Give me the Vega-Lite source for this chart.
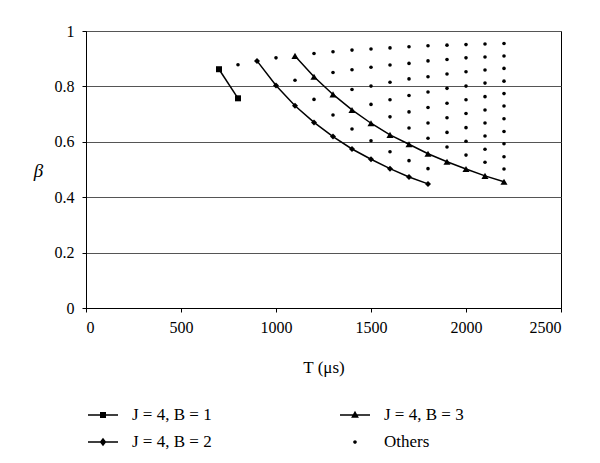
{
  "$schema": "https://vega.github.io/schema/vega-lite/v6.json",
  "width": 475,
  "height": 277,
  "autosize": {"type": "none"},
  "padding": {"left": 86, "top": 31, "right": 39, "bottom": 155},
  "background": "white",
  "config": {
    "view": {"stroke": "black", "strokeWidth": 1},
    "font": "Liberation Serif",
    "axis": {
      "labelFont": "Liberation Serif",
      "labelFontSize": 16,
      "labelColor": "black",
      "titleFont": "Liberation Serif",
      "titleColor": "black",
      "titleFontWeight": "normal",
      "domainColor": "black",
      "tickColor": "black",
      "tickSize": 4,
      "gridColor": "#555555",
      "gridWidth": 1,
      "gridOpacity": 1
    }
  },
  "data": {
    "values": [
      {"T": 700, "beta": 0.862, "s": "J = 4, B = 1"},
      {"T": 800, "beta": 0.757, "s": "J = 4, B = 1"},
      {"T": 900, "beta": 0.892, "s": "J = 4, B = 2"},
      {"T": 1000, "beta": 0.803, "s": "J = 4, B = 2"},
      {"T": 1100, "beta": 0.730, "s": "J = 4, B = 2"},
      {"T": 1200, "beta": 0.670, "s": "J = 4, B = 2"},
      {"T": 1300, "beta": 0.619, "s": "J = 4, B = 2"},
      {"T": 1400, "beta": 0.574, "s": "J = 4, B = 2"},
      {"T": 1500, "beta": 0.537, "s": "J = 4, B = 2"},
      {"T": 1600, "beta": 0.503, "s": "J = 4, B = 2"},
      {"T": 1700, "beta": 0.473, "s": "J = 4, B = 2"},
      {"T": 1800, "beta": 0.448, "s": "J = 4, B = 2"},
      {"T": 1100, "beta": 0.910, "s": "J = 4, B = 3"},
      {"T": 1200, "beta": 0.835, "s": "J = 4, B = 3"},
      {"T": 1300, "beta": 0.771, "s": "J = 4, B = 3"},
      {"T": 1400, "beta": 0.715, "s": "J = 4, B = 3"},
      {"T": 1500, "beta": 0.667, "s": "J = 4, B = 3"},
      {"T": 1600, "beta": 0.625, "s": "J = 4, B = 3"},
      {"T": 1700, "beta": 0.591, "s": "J = 4, B = 3"},
      {"T": 1800, "beta": 0.557, "s": "J = 4, B = 3"},
      {"T": 1900, "beta": 0.528, "s": "J = 4, B = 3"},
      {"T": 2000, "beta": 0.502, "s": "J = 4, B = 3"},
      {"T": 2100, "beta": 0.477, "s": "J = 4, B = 3"},
      {"T": 2200, "beta": 0.456, "s": "J = 4, B = 3"},
      {"T": 800, "beta": 0.878, "s": "Others"},
      {"T": 1000, "beta": 0.903, "s": "Others"},
      {"T": 1100, "beta": 0.822, "s": "Others"},
      {"T": 1200, "beta": 0.919, "s": "Others"},
      {"T": 1200, "beta": 0.753, "s": "Others"},
      {"T": 1300, "beta": 0.925, "s": "Others"},
      {"T": 1300, "beta": 0.850, "s": "Others"},
      {"T": 1300, "beta": 0.697, "s": "Others"},
      {"T": 1400, "beta": 0.931, "s": "Others"},
      {"T": 1400, "beta": 0.860, "s": "Others"},
      {"T": 1400, "beta": 0.789, "s": "Others"},
      {"T": 1400, "beta": 0.646, "s": "Others"},
      {"T": 1500, "beta": 0.935, "s": "Others"},
      {"T": 1500, "beta": 0.869, "s": "Others"},
      {"T": 1500, "beta": 0.801, "s": "Others"},
      {"T": 1500, "beta": 0.735, "s": "Others"},
      {"T": 1500, "beta": 0.604, "s": "Others"},
      {"T": 1600, "beta": 0.939, "s": "Others"},
      {"T": 1600, "beta": 0.877, "s": "Others"},
      {"T": 1600, "beta": 0.815, "s": "Others"},
      {"T": 1600, "beta": 0.752, "s": "Others"},
      {"T": 1600, "beta": 0.690, "s": "Others"},
      {"T": 1600, "beta": 0.564, "s": "Others"},
      {"T": 1700, "beta": 0.943, "s": "Others"},
      {"T": 1700, "beta": 0.883, "s": "Others"},
      {"T": 1700, "beta": 0.827, "s": "Others"},
      {"T": 1700, "beta": 0.767, "s": "Others"},
      {"T": 1700, "beta": 0.708, "s": "Others"},
      {"T": 1700, "beta": 0.650, "s": "Others"},
      {"T": 1700, "beta": 0.532, "s": "Others"},
      {"T": 1800, "beta": 0.947, "s": "Others"},
      {"T": 1800, "beta": 0.892, "s": "Others"},
      {"T": 1800, "beta": 0.835, "s": "Others"},
      {"T": 1800, "beta": 0.780, "s": "Others"},
      {"T": 1800, "beta": 0.724, "s": "Others"},
      {"T": 1800, "beta": 0.668, "s": "Others"},
      {"T": 1800, "beta": 0.613, "s": "Others"},
      {"T": 1800, "beta": 0.503, "s": "Others"},
      {"T": 1900, "beta": 0.949, "s": "Others"},
      {"T": 1900, "beta": 0.897, "s": "Others"},
      {"T": 1900, "beta": 0.845, "s": "Others"},
      {"T": 1900, "beta": 0.793, "s": "Others"},
      {"T": 1900, "beta": 0.739, "s": "Others"},
      {"T": 1900, "beta": 0.687, "s": "Others"},
      {"T": 1900, "beta": 0.634, "s": "Others"},
      {"T": 1900, "beta": 0.581, "s": "Others"},
      {"T": 2000, "beta": 0.951, "s": "Others"},
      {"T": 2000, "beta": 0.903, "s": "Others"},
      {"T": 2000, "beta": 0.853, "s": "Others"},
      {"T": 2000, "beta": 0.801, "s": "Others"},
      {"T": 2000, "beta": 0.752, "s": "Others"},
      {"T": 2000, "beta": 0.702, "s": "Others"},
      {"T": 2000, "beta": 0.651, "s": "Others"},
      {"T": 2000, "beta": 0.602, "s": "Others"},
      {"T": 2000, "beta": 0.552, "s": "Others"},
      {"T": 2100, "beta": 0.953, "s": "Others"},
      {"T": 2100, "beta": 0.906, "s": "Others"},
      {"T": 2100, "beta": 0.859, "s": "Others"},
      {"T": 2100, "beta": 0.812, "s": "Others"},
      {"T": 2100, "beta": 0.763, "s": "Others"},
      {"T": 2100, "beta": 0.715, "s": "Others"},
      {"T": 2100, "beta": 0.668, "s": "Others"},
      {"T": 2100, "beta": 0.621, "s": "Others"},
      {"T": 2100, "beta": 0.573, "s": "Others"},
      {"T": 2100, "beta": 0.526, "s": "Others"},
      {"T": 2200, "beta": 0.955, "s": "Others"},
      {"T": 2200, "beta": 0.910, "s": "Others"},
      {"T": 2200, "beta": 0.865, "s": "Others"},
      {"T": 2200, "beta": 0.819, "s": "Others"},
      {"T": 2200, "beta": 0.774, "s": "Others"},
      {"T": 2200, "beta": 0.729, "s": "Others"},
      {"T": 2200, "beta": 0.683, "s": "Others"},
      {"T": 2200, "beta": 0.637, "s": "Others"},
      {"T": 2200, "beta": 0.593, "s": "Others"},
      {"T": 2200, "beta": 0.546, "s": "Others"},
      {"T": 2200, "beta": 0.502, "s": "Others"}
    ]
  },
  "encoding": {
    "x": {
      "field": "T", "type": "quantitative",
      "scale": {"domain": [0, 2500], "nice": false},
      "axis": {
        "values": [0, 500, 1000, 1500, 2000, 2500],
        "format": "d",
        "grid": false,
        "title": "T (μs)",
        "titleFontSize": 17,
        "titleBaseline": "middle",
        "titleY": 59,
        "labelPadding": 7
      }
    },
    "y": {
      "field": "beta", "type": "quantitative",
      "scale": {"domain": [0, 1], "nice": false},
      "axis": {
        "values": [0, 0.2, 0.4, 0.6, 0.8, 1],
        "format": "~g",
        "grid": true,
        "title": "β",
        "titleFontSize": 19,
        "titleFontStyle": "italic",
        "titleAngle": 0,
        "titleAlign": "center",
        "titleBaseline": "middle",
        "titleX": -48,
        "titleY": 139,
        "labelPadding": 8
      }
    }
  },
  "resolve": {"scale": {"shape": "independent"}, "legend": {"shape": "independent"}},
  "layer": [
    {
      "transform": [{"filter": "datum.s != 'Others'"}],
      "mark": {"type": "line", "color": "black", "strokeWidth": 1.5},
      "encoding": {"detail": {"field": "s"}}
    },
    {
      "mark": {"type": "point", "filled": true, "color": "black", "opacity": 1},
      "encoding": {
        "shape": {
          "field": "s", "type": "nominal",
          "scale": {
            "domain": ["J = 4, B = 1", "J = 4, B = 2", "J = 4, B = 3", "Others"],
            "range": ["square", "diamond", "triangle-up", "circle"]
          },
          "legend": null
        },
        "size": {
          "condition": [
            {"test": "datum.s == 'Others'", "value": 13},
            {"test": "datum.s == 'J = 4, B = 3'", "value": 50}
          ],
          "value": 36
        }
      }
    },
    {
      "transform": [{"filter": "datum.T < 0"}],
      "mark": {"type": "point", "filled": true, "color": "black", "opacity": 1},
      "encoding": {
        "shape": {
          "field": "s", "type": "nominal",
          "scale": {
            "domain": ["J = 4, B = 1", "J = 4, B = 2", "J = 4, B = 3", "Others"],
            "range": [
              "M-1,-0.05H1V0.05H-1ZM-0.2,-0.2H0.2V0.2H-0.2Z",
              "M-1,-0.05H1V0.05H-1ZM0,-0.28L0.22,0L0,0.28L-0.22,0Z",
              "M-1,-0.05H1V0.05H-1ZM0,-0.28L0.26,0.18H-0.26Z",
              "M-0.12,0A0.12,0.12 0 1,1 0.12,0A0.12,0.12 0 1,1 -0.12,0Z"
            ]
          },
          "legend": {
            "title": null,
            "orient": "none",
            "legendX": 1,
            "legendY": 368,
            "columns": 2,
            "columnPadding": 125,
            "rowPadding": 3,
            "symbolSize": 900,
            "symbolFillColor": "black",
            "symbolOpacity": 1,
            "labelFont": "Liberation Serif",
            "labelFontSize": 17,
            "labelColor": "black",
            "labelOffset": 13,
            "labelLimit": 200
          }
        }
      }
    }
  ]
}
